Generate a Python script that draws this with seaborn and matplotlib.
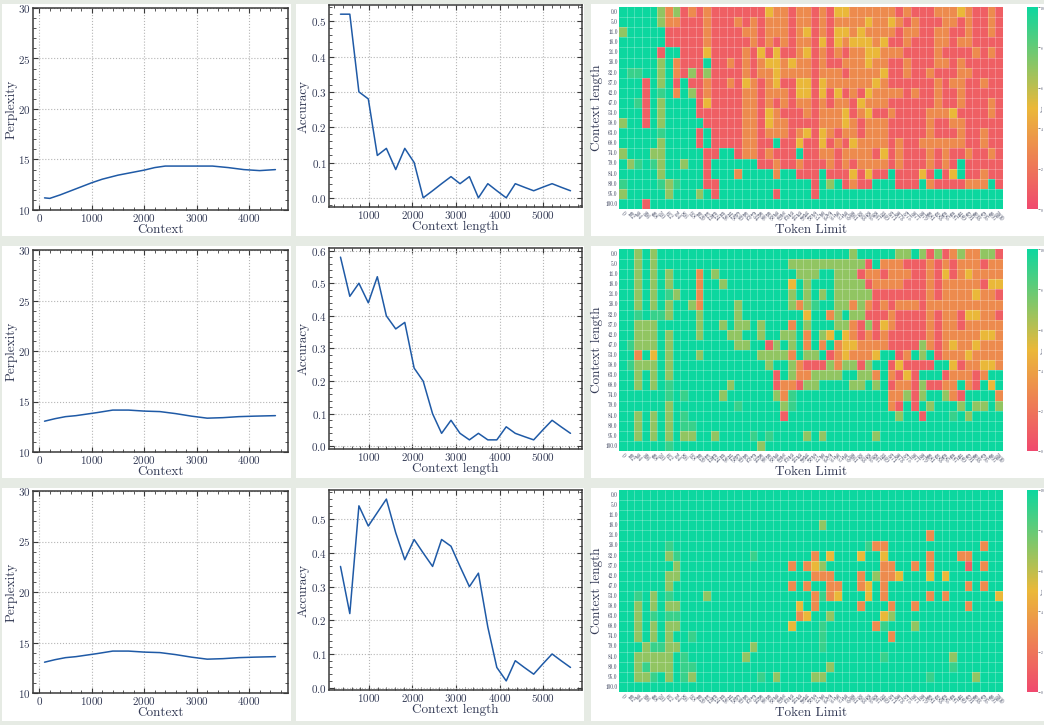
import numpy as np
import pandas as pd
import matplotlib
matplotlib.use("Agg")
import matplotlib.pyplot as plt
from matplotlib.colors import LinearSegmentedColormap
from matplotlib.patches import Rectangle
from matplotlib.ticker import AutoMinorLocator
import seaborn as sns

# --- DATOS: perplejidad ---
ppl_ctx_1 = [100, 200, 400, 600, 800, 1000, 1200, 1500, 1800, 2000, 2200, 2400,
             2700, 3000, 3300, 3600, 3900, 4200, 4500]
ppl_val_1 = [11.2, 11.15, 11.5, 11.9, 12.3, 12.7, 13.05, 13.45, 13.75, 13.95, 14.2, 14.35,
             14.35, 14.35, 14.35, 14.2, 14.0, 13.9, 14.0]
ppl_ctx_23 = [100, 300, 500, 700, 900, 1100, 1400, 1700, 2000, 2300, 2600, 2900,
              3200, 3500, 3800, 4100, 4500]
ppl_val_2 = [13.05, 13.3, 13.5, 13.6, 13.75, 13.9, 14.15, 14.15, 14.05, 14.0, 13.8, 13.55,
             13.35, 13.4, 13.5, 13.55, 13.6]
ppl_val_3 = [13.05, 13.3, 13.5, 13.6, 13.75, 13.9, 14.15, 14.15, 14.05, 14.0, 13.8, 13.55,
             13.35, 13.4, 13.5, 13.55, 13.6]

# --- DATOS: accuracy ---
acc_ctx = [346, 560, 769, 985, 1192, 1400, 1615, 1823, 2038, 2246, 2462, 2669, 2885,
           3092, 3308, 3515, 3731, 3938, 4154, 4362, 4569, 4785, 4992, 5208, 5415, 5631]
acc_1 = [0.52, 0.52, 0.30, 0.28, 0.12, 0.14, 0.08, 0.14, 0.10, 0.0, 0.02, 0.04, 0.06,
         0.04, 0.06, 0.0, 0.04, 0.02, 0.0, 0.04, 0.03, 0.02, 0.03, 0.04, 0.03, 0.02]
acc_2 = [0.58, 0.46, 0.50, 0.44, 0.52, 0.40, 0.36, 0.38, 0.24, 0.20, 0.10, 0.04, 0.08,
         0.04, 0.02, 0.04, 0.02, 0.02, 0.06, 0.04, 0.03, 0.02, 0.05, 0.08, 0.06, 0.04]
acc_3 = [0.36, 0.22, 0.54, 0.48, 0.52, 0.56, 0.46, 0.38, 0.44, 0.40, 0.36, 0.44, 0.42,
         0.36, 0.30, 0.34, 0.18, 0.06, 0.02, 0.08, 0.06, 0.04, 0.07, 0.10, 0.08, 0.06]

# --- DATOS: heatmaps (needle in a haystack) ---
token_labels = [0, 102, 204, 306, 408, 510, 612, 714, 816, 918, 1020, 1122, 1224, 1326,
                1428, 1530, 1632, 1734, 1836, 1938, 2040, 2142, 2244, 2346, 2448, 2551,
                2653, 2755, 2857, 2959, 3061, 3163, 3265, 3367, 3469, 3571, 3673, 3775,
                3877, 3979, 4081, 4183, 4285, 4387, 4489, 4591, 4693, 4795, 4897, 5000]
depth_labels = ["0.0", "5.0", "11.0", "16.0", "21.0", "26.0", "32.0", "37.0", "42.0", "47.0",
                "53.0", "58.0", "63.0", "68.0", "74.0", "79.0", "84.0", "89.0", "95.0", "100.0"]

# codigo de color -> puntuacion
score_code = {"G": 10, "g": 9, "L": 7, "Y": 5, "O": 3, "R": 1}

heat_rows_1 = [
    "GGGGG LOLRO RORRR RRRRY OOROO RORYY OOOOO ORORR ROOOY ORROR",
    "GGGGG LOORR RORRR ORORO OOROO ROROO OOYOO YOROR RROOR ORROR",
    "LGGGG GRRRR RORRR ROORO OOROY RORYY OYOOO OROOR ROORR ORROR",
    "GGGGG GRRRR RORRR RRORO ROROO RYRYO YYYOY RRORR ROORO ORRRR",
    "GGGGG RGGRR RYRRR RORYR YRROY ROROR OOYYO OORRR RORRR ROROR",
    "GGGGG LGORR RGRRO ROROY YOYOO RORRO OOYOO RRORR ROORO RRRRR",
    "GggGG LGORL RLRRR ROROO YOOOO ROOOR OOOOY RRORR ORRRO ORRRR",
    "GGGRG LGRGR RORRO RYORO YRRYY RYOOO OOOYO RRRRR ROROO RRORR",
    "GGGRG gGOGL RORRR ROORO OORYY RYRYR ORYOO OOROR RORRO RRRRR",
    "GGgRG LGGGG RYRRR ROORO ROROO ROROO RYOOO RRRRR RORRO RRROR",
    "GGGRG LGGGG RRRRR ROORY ORRRO ROOOY ROYRR ORRRR OOOYR RRROR",
    "LGGRG LGGGG GRRRR ROORY OORRR ROOOY OROOO RRRRR ORROO RRRRR",
    "GGGGG gGGGG RGRRR ROORO OOROY RYORO OROOO RRRRR ORRRO RRORR",
    "GGGGG LGGGG RGRRR ROORR GRRYR RYROR YOOOO RORRO OOOOO RRORR",
    "LGGGL LGGGG GRRGG ROORO RRRGR ROORO OOORY RORRR ORORR ORROR",
    "GLgGg LGGLG GRGGG GGGRR ORROR RRORO ROOOO RORRR ORORG RRRRR",
    "GGGGG LGGGG GRGGG OGGGG OGGRR RGRRR YRYRR GRRRY RGRYG RRORR",
    "gGGGG gLgGG GRRGG GGGGG GGGGG RGLGR ORRGG GRRRG ORRRR OOOGR",
    "LGGGG GLGGG LGRGG GGGGG RGGGG RGGGG GGGGG GGGGG GGGGG GGGGG",
    "GGGRG GGGGG GGGGG GGGGG GGGGG GGGGG GGGGG GGGGG GGGGG GGGGG",
]

heat_rows_2 = [
    "GGLGL GGGGG GGGGG GGGGG GGGGG GGGGG LGGGG GLLGL RLROL OOLLR",
    "GGLGL GGGGG GGGGG GGGGG GGLLL LLLLL LLRGO OORRR ORORO OOROO",
    "GGLGL GLGGG OGLGG GGGGG GGGLL LGGLL LROOR OOORR ORYRO YOOOO",
    "GGLGL GLGGG OGGLG GGGGG GGYGL GGGLL LLROO OORRR OROOO OORYY",
    "GGLGL GgLGG OGGGG GGGGG GGLGL GLGLL LLLRR RRRRR OROOO OYOOR",
    "GGLGL GLGGL OGGGG LGGGG GGLOL gGGLL OLORO ROOOR OOOOO OOOOO",
    "GGgGg gLGGG LGGGG LGGGG GGGGY GGOLG LLRRR ORRRR OROOR YYOOR",
    "GGLLL GGGGG LGGLG LLGLG GGOGL GGGLL ORLRY ORRRR OROOR OOOOO",
    "GGLLL GLGGG LGGGL LGGLG GLLGO GLYGY ORORO RRRRR OROOO OOYYO",
    "GgLLL GLGGG GGGGG LLGGR LGLGO GOGOY YOOOO RRRRL OROYO OYOOO",
    "GGOGY GLGGG LGGGG GGGLL LLOGL LGROY OOOYG GROGL GROOO YOOOO",
    "GgLLL GLGGG GGGGG GGGGL GGLOR RRLOL LRLGG RYRRR RGGYR OOYYO",
    "GGLGL GLGGG GGGGG GGGGG RGLOO LLLLG GLLOG ORYRG GGROO OROGG",
    "GGLGL GgGGG GGGGL GGGGG ROORL LGGGG LLGLG ROORL RROOG ORGYG",
    "GGGGG GgGgG GGGLG GGGGG LOgGG GGGGG GGGGG OOLRL GGLOR GGGGO",
    "GGGGG GLGGG GGGGG gGGGG GLgGG GGGGG GGGGG ORGRG LGGGL GLLGL",
    "GGLGL GLGgG GGGGG GGGGG GRGGG GGGGG GGGGG GLGGR GGGgG LGGGG",
    "GGLGL GLGgg GGGGG GGGGG GGGGG GGGGG GGGGG GGGGG GGGGG GGGGG",
    "GGLGL GLGLL GGLGG GGgGg GGGGL GLGGG GGGLG GGGGG GGGGG GGGGG",
    "GGGGG GgGGG GGGGG GGGLG GGGGG GGGGG GGGGG GGGGG GGGGG GGGGG",
]

heat_rows_3 = [
    "GGGGG GGGGG GGGGG GGGGG GGGGG GGGGG GGGGG GGGGG GGGGG GGGGG",
    "GGGGG GGGGG GGGGG GGGGG GGGGG GGGGG GGGGG GGGGG GGGGG GGGGG",
    "GGGGG GGGGG GGGGG GGGGG GGGGG GGGGG GGGGG GGGGG GGGGG GGGGG",
    "GGGGG GGGGG GGGGG GGGGG GGGGG GLGGG GGGGG GGGGG GGGGG GGGGG",
    "GGGGG GGGGG GGGGG GGGGG GGGGG GGGGG GGGGG GGGGG OGGGG GGGGG",
    "GGGGG GgGGG GGGGG GGGGG GGGGG GGGGG GGgOO GGGGG GGGGG GGOGG",
    "GGGGG GLgGG GGGGG GGgGG GGGGG OGYGG GYGGY GGGGG OGGGO OGGGG",
    "GGGGG GGLGG GGGGG GGGGG GGOGO YLGGG GGGGO OGGOG OGGGG RGOGG",
    "GGGGG GLLGG GGGGG GGGGG GGGGG OOOGG GOGLO OYGGG YGYGG GGGGG",
    "GGGGG GLGGG GGGGG GGGGG GGOGO GGOOG GOYGO GGGGG GGGGG OGOGG",
    "GGgGL GgGGG GLGGG GGGGG GGGGG OgOYG GGYGO GGGGG OGOGG GGGGY",
    "GGLGL GLLGG GGGGG GGGGG GGGYG OGGGG GOGGG OGGOG GGGGG OGGGG",
    "GGLGg GggGG GGGGG GGGGG GGGOY GGLGG GGGGY LGGGG GGGGG GGGGG",
    "GGLGL GLLGG GGGGG GGGGG GGYGG GgGGG GGGOg GGGLG GGGGG GGGGG",
    "GGLGL GLGGg GGGGG GGGGG GGGGG GgGGG GGGGG OGGGG GGGGG GGGGG",
    "GGGLg gLLGG GGGGG GGLGG GGGGG GgGGG GGGGG GGGGG GGGGG GGGGG",
    "GGLLL LLGgG GGGGG GLGGG GGGGG GGGGG GGGGg GGGGG GGGLG GGGGG",
    "GGLgL LLGgg GGGGG GGGGG GGGGG GGLGG GGGGG GGGGG GGGgG GGGGG",
    "GGLLg GLGgL GGGGG GGGgG LGGGG LLGGG GGGGG GGGGG gGGGG GLGGG",
    "GGGGG GGGGG GGGGG GGGGG GGGGG GGGGG GGGGG GGGGG GGGGG GGGGG",
]

# --- ESTILO ---
sns.set_theme(style="ticks")
text_col = "#333a55"
plt.rcParams.update({
    "font.family": ["cmr10", "DejaVu Serif"],
    "axes.formatter.use_mathtext": True,
    "mathtext.fontset": "cm",
    "xtick.direction": "in",
    "ytick.direction": "in",
    "xtick.top": True,
    "ytick.right": True,
    "axes.edgecolor": "#3a3a3a",
    "axes.linewidth": 1.1,
    "text.color": text_col,
    "axes.labelcolor": text_col,
    "xtick.color": "#3a3a3a",
    "ytick.color": "#3a3a3a",
    "xtick.labelcolor": text_col,
    "ytick.labelcolor": text_col,
})

W, H = 1044, 725
fig = plt.figure(figsize=(W / 100, H / 100), dpi=100)
fig.patch.set_facecolor("#e6ebe4")


def box(x0, y0, x1, y1):
    return [x0 / W, 1 - y1 / H, (x1 - x0) / W, (y1 - y0) / H]


# paneles blancos de fondo (detras de los ejes)
panel_rows = [(4, 236), (246, 478), (488, 721)]
panel_cols = [(2, 291), (296, 584), (591, 1044)]
for (py0, py1) in panel_rows:
    for (px0, px1) in panel_cols:
        b = box(px0, py0, px1, py1)
        fig.patches.append(Rectangle((b[0], b[1]), b[2], b[3], transform=fig.transFigure,
                                     facecolor="white", edgecolor="none", zorder=-5))

line_col = "#1f5aa6"
cmap = LinearSegmentedColormap.from_list("niah", ["#F0496E", "#EBB839", "#0CD79F"])


def style_line_axes(ax):
    ax.xaxis.set_minor_locator(AutoMinorLocator())
    ax.yaxis.set_minor_locator(AutoMinorLocator())
    ax.grid(True, which="major", linestyle=":", color="#b5b5b5", linewidth=0.8)
    ax.tick_params(which="major", length=3.5, width=0.8, labelsize=8, pad=1.5)
    ax.tick_params(which="minor", length=2, width=0.6)
    for s in ax.spines.values():
        s.set_linewidth(1.1)


ppl_data = [(ppl_ctx_1, ppl_val_1), (ppl_ctx_23, ppl_val_2), (ppl_ctx_23, ppl_val_3)]
acc_data = [acc_1, acc_2, acc_3]
heat_data = [heat_rows_1, heat_rows_2, heat_rows_3]

left_boxes = [(33, 8, 288, 210), (33, 250, 288, 452), (33, 491, 288, 693)]
mid_boxes = [(329, 5, 582, 207), (329, 248, 582, 449), (329, 490, 582, 690)]
heat_boxes = [(619, 7, 1003, 209), (619, 249, 1003, 451), (619, 490, 1003, 692)]
cbar_boxes = [(1027, 7, 1038, 209), (1027, 249, 1038, 451), (1027, 490, 1038, 692)]

for i in range(3):
    # --- perplejidad ---
    ax = fig.add_axes(box(*left_boxes[i]))
    xs, ys = ppl_data[i]
    sns.lineplot(x=xs, y=ys, ax=ax, color=line_col, linewidth=1.1)
    ax.set_xlim(-120, 4740)
    ax.set_ylim(10, 30)
    ax.set_yticks([10, 15, 20, 25, 30])
    ax.set_xticks([0, 1000, 2000, 3000, 4000])
    ax.set_xlabel("Context", fontsize=9.5, labelpad=0)
    ax.set_ylabel("Perplexity", fontsize=9.5, labelpad=0.5)
    style_line_axes(ax)

    # --- accuracy ---
    ax = fig.add_axes(box(*mid_boxes[i]))
    sns.lineplot(x=acc_ctx, y=acc_data[i], ax=ax, color=line_col, linewidth=1.1)
    ax.set_xticks([1000, 2000, 3000, 4000, 5000])
    ax.set_xlabel("Context length", fontsize=9.5, labelpad=0)
    ax.set_ylabel("Accuracy", fontsize=9.5, labelpad=1)
    style_line_axes(ax)

    # --- heatmap ---
    grid = np.array([[score_code[c] for c in r.replace(" ", "")] for r in heat_data[i]],
                    dtype=float)
    df = pd.DataFrame(grid, index=depth_labels, columns=token_labels)
    hax = fig.add_axes(box(*heat_boxes[i]))
    cax = fig.add_axes(box(*cbar_boxes[i]))
    sns.heatmap(df, ax=hax, cbar_ax=cax, cmap=cmap, vmin=0, vmax=10,
                linewidths=0, xticklabels=True, yticklabels=True)
    # lineas finas entre celdas
    n_rows, n_cols = grid.shape
    hax.hlines(np.arange(1, n_rows), 0, n_cols, colors="white", linewidth=0.5, alpha=0.35)
    hax.vlines(np.arange(1, n_cols), 0, n_rows, colors="white", linewidth=0.5, alpha=0.35)
    hax.tick_params(length=0, labelsize=3.8, pad=1, top=False, right=False)
    plt.setp(hax.get_xticklabels(), rotation=-45, ha="center", va="top")
    plt.setp(hax.get_yticklabels(), rotation=0)
    hax.set_xlabel("Token Limit", fontsize=9.5, labelpad=1)
    hax.set_ylabel("Context length", fontsize=9.5, labelpad=2)
    cax.tick_params(length=1.2, width=0.4, labelsize=2.4, direction="out",
                    left=False, pad=0.5)
    cax.set_yticks([0, 2, 4, 6, 8, 10])
    cax.set_ylabel("Score", fontsize=2.2)
    cax.yaxis.set_label_coords(1.3, 0.5)
    for s in cax.spines.values():
        s.set_visible(False)

fig.savefig("out.png", dpi=100, facecolor=fig.get_facecolor())
